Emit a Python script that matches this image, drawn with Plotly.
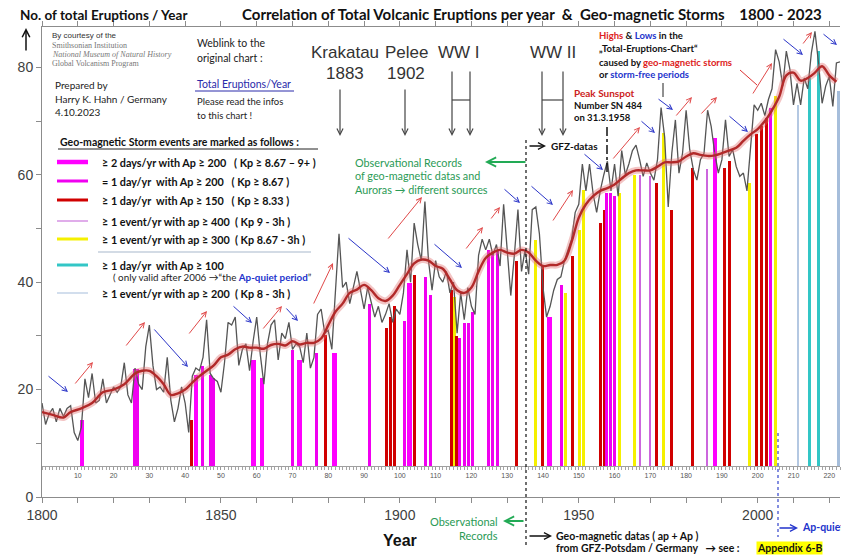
import plotly.graph_objects as go

# ---------------- data ----------------
YEARS = list(range(1800, 2024))
ERUPTIONS = [
    17.5, 13.5, 15.5, 16.5, 14, 16.5, 15, 16.5, 17, 12,
    10.5, 13, 22, 18.5, 23, 17.5, 18, 22, 17.5, 19,
    20.5, 19.5, 20.5, 25, 19, 17.5, 24, 21, 20, 28,
    32, 24.5, 20, 20.5, 19.5, 26, 18, 14, 16.5, 20.5,
    17.5, 12, 22.5, 24, 23.5, 26, 33, 23, 22, 21.5,
    19.5, 25, 32.5, 32, 33.5, 24.5, 27.5, 28.5, 23.5, 29,
    33.5, 26.5, 21, 28.5, 32, 33, 25.5, 30.5, 29.5, 32.5,
    27.5, 28.5, 28, 25, 30.5, 24, 26, 34, 35, 30.5,
    31, 27.5, 38, 49, 39, 40, 36, 39, 42, 38.5,
    35, 39, 36.5, 33.5, 35.5, 32.5, 34, 36, 32.5, 35,
    34, 38, 46, 40, 51, 47, 44, 55, 44, 38.5,
    44, 41, 40, 42, 38, 40, 30.5, 38, 33, 39,
    35.5, 34, 45, 48, 46, 48, 45, 47, 43, 54.5,
    46, 37.5, 45, 53.5, 42, 46, 41.5, 53.5, 54, 49,
    39, 33.5, 35.5, 38.5, 40.5, 41, 44, 46, 48, 53,
    54.5, 62, 57, 62, 56.5, 53, 57, 60, 62.5, 57,
    62, 56, 64.5, 60, 62, 64.5, 65.5, 62.8, 59.7, 62.2,
    60.3, 59, 62.8, 72.5, 67, 54, 64, 70.2, 60.3, 64,
    72, 64.7, 61, 59, 62.8, 64, 72, 69, 64, 60.3,
    62.8, 70.2, 63.4, 64.7, 61.5, 59.7, 60.3, 57, 65, 73,
    72, 73.3, 71, 74, 76, 83.3, 81, 76.5, 83, 79.6,
    73, 77, 73, 78, 76, 82.7, 86.7, 80.8, 73.3, 76.5,
    78.3, 72.7, 80.8, 81,
]

TREND_YEARS = [1800, 1803, 1806, 1808, 1811, 1814, 1817, 1820, 1823, 1826, 1828, 1830,
               1832, 1834, 1836, 1838, 1840, 1842, 1844, 1846, 1848, 1850, 1852, 1854,
               1856, 1858, 1860, 1862, 1864, 1866, 1868, 1870, 1872, 1874, 1876, 1878,
               1880, 1882, 1884, 1886, 1888, 1890, 1892, 1894, 1896, 1898, 1900, 1902,
               1904, 1906, 1908, 1910, 1912, 1914, 1916, 1918, 1920, 1922, 1924, 1926,
               1928, 1930, 1932, 1934, 1936, 1938, 1940, 1942, 1944, 1946, 1948, 1950,
               1952, 1954, 1956, 1958, 1960, 1962, 1964, 1966, 1968, 1970, 1972, 1974,
               1976, 1978, 1980, 1982, 1984, 1986, 1988, 1990, 1992, 1994, 1996, 1998,
               2000, 2002, 2004, 2006, 2008, 2010, 2012, 2014, 2016, 2018, 2020, 2022]
TREND_VALUES = [15.8, 15.3, 14.8, 15.8, 16.5, 17.5, 19.5, 20, 21, 23, 23.5, 23.5,
                22.5, 21, 19, 19.3, 20, 21.3, 22.5, 23.5, 24.5, 26, 26.5, 27.5,
                28, 27.8, 27.8, 27.6, 28.3, 28.5, 28.2, 29, 28.4, 28.7, 28.7, 29.5,
                32, 34.5, 36, 38, 38.6, 39.5, 38.5, 37, 36.5, 37.5, 39.5, 41.5,
                43.5, 44.2, 44, 43, 42.5, 40.5, 38.5, 38, 39, 42, 44.5, 45.5,
                46, 45.5, 45.3, 46, 45.5, 44, 43, 43.2, 43.2, 44, 47.5, 52,
                54.5, 56, 57, 57.5, 58.2, 59.3, 60.3, 60.8, 60.8, 60.8, 61.5, 62.3,
                62.3, 62.5, 63.4, 64, 63.7, 63.5, 63.6, 64, 64.5, 65, 66.3, 67.5,
                68.5, 70, 72, 74.5, 78.5, 79, 77.5, 78, 79, 80.2, 78.5, 77.3]

# storm-event bars (year, top value)
MAG2_YEARS = [1811.2, 1843.1, 1859.1, 1861.5, 1871.9, 1881.7, 1902.7, 1941.8, 1988.1]
MAG2_TOPS = [14.3, 22.7, 25.5, 22.1, 25.5, 26.8, 39.8, 33.6, 66.8]
MAG1_YEARS = [1825.8, 1826.8, 1844.9, 1847, 1848, 1870, 1876.6, 1891.5, 1901.3, 1907.3,
              1908.6, 1916.8, 1918, 1919.2, 1920.4, 1924.9, 1926, 1927.3, 1945.2, 1957.8,
              1958.9, 1960.1, 2003.7]
MAG1_TOPS = [23.8, 23.8, 24.3, 22.7, 22.1, 27.4, 26.8, 36, 32.7, 41,
             37.6, 29.6, 32.4, 32.4, 34.5, 46, 45.7, 46, 39.5, 56.6,
             56.6, 56, 72.4]
RED_YEARS = [1841.9, 1879.3, 1896.4, 1897.5, 1898.5, 1904, 1914.5, 1915.9, 1932.7, 1939.9,
             1948.3, 1956, 1957.1, 1971.7, 1975.9, 1981.9, 1990.8, 1992, 1999.7, 2001.1, 2002.5]
RED_TOPS = [14.3, 30.2, 31.5, 33.6, 35.5, 41.4, 38.6, 29.9, 43.9, 42.9,
            44.8, 51, 53.5, 58.4, 53.5, 61.2, 61.2, 62.5, 67.5, 69, 70.6]
VIOLET_YEARS = [1967.3, 1969.9, 1985.9]
VIOLET_TOPS = [60, 59.7, 61]
YELLOW_YEARS = [1915.2, 1938, 1946.4, 1950.2, 1951.3, 1961.4, 1965.7, 1973.6, 1997.8, 2005.1]
YELLOW_TOPS = [37.3, 47.9, 38, 49.8, 57.2, 56.6, 60, 67.8, 58.4, 74.6]
CYAN_YEARS = [2014.5, 2017.1]
CYAN_TOPS = [78, 83]
PALE_YEARS = [2011.3]
PALE_TOPS = [73]
STEEL_YEARS = [2022.6]
STEEL_TOPS = [75.5]

X_TICKS = list(range(1800, 2021, 10))
X_LABELS = [str(v) if v % 50 == 0 else '' for v in X_TICKS]
Y_TICKS = list(range(0, 81, 10))
Y_LABELS = [str(v) if v % 20 == 0 else '' for v in Y_TICKS]
OFFSET_TICKS = list(range(10, 221, 10))

# ---------------- layout helpers ----------------
W, H = 841, 555
L, R, T, B = 42, 840, 27, 497
X0, X1 = 1800, 2023
YMAX = 87.5
BASE = 5.8

ARIAL = "Liberation Sans, Arial, sans-serif"
CAL = "Lato, Carlito, sans-serif"
SERIF = "Liberation Serif, serif"
GREEN = '#2a9a55'
BLUE = '#2233cc'


def PX(x):
    return (x - L) / (R - L)


def PY(y):
    return (B - y) / (B - T)


fig = go.Figure()


def add_bars(xs, tops, color, width):
    fig.add_trace(go.Bar(x=xs, y=[t - BASE for t in tops], base=BASE, width=width,
                         marker=dict(color=color, line=dict(width=0)),
                         showlegend=False, hoverinfo='skip'))


add_bars(PALE_YEARS, PALE_TOPS, '#b4c8e2', 0.4)
add_bars(STEEL_YEARS, STEEL_TOPS, '#a6bedb', 1.0)
add_bars(CYAN_YEARS, CYAN_TOPS, '#33c6c6', 0.85)
add_bars(YELLOW_YEARS, YELLOW_TOPS, '#f5f000', 0.85)
add_bars(VIOLET_YEARS, VIOLET_TOPS, '#cc66dd', 0.4)
add_bars(RED_YEARS, RED_TOPS, '#d00000', 0.85)
add_bars(MAG1_YEARS, MAG1_TOPS, '#f000f0', 0.85)
add_bars(MAG2_YEARS, MAG2_TOPS, '#ff00ff', 1.25)

# invisible anchor trace so the inner year-offset axis is drawn
fig.add_trace(go.Scatter(x=[OFFSET_TICKS[0], OFFSET_TICKS[-1]], y=[BASE, BASE], xaxis='x2', yaxis='y',
                         mode='markers', marker=dict(opacity=0, size=1),
                         showlegend=False, hoverinfo='skip'))

fig.add_trace(go.Scatter(x=YEARS, y=ERUPTIONS, mode='lines',
                         line=dict(color='#555555', width=1.3),
                         showlegend=False, hoverinfo='skip'))
fig.add_trace(go.Scatter(x=TREND_YEARS, y=TREND_VALUES, mode='lines',
                         line=dict(color='rgba(225,110,110,0.40)', width=7, shape='spline'),
                         showlegend=False, hoverinfo='skip'))
fig.add_trace(go.Scatter(x=TREND_YEARS, y=TREND_VALUES, mode='lines',
                         line=dict(color='#b22a2a', width=2.4, shape='spline'),
                         showlegend=False, hoverinfo='skip'))

ann = []
shapes = []


def txt(x, y, text, size=10, color='#1a1a1a', family=CAL, xanchor='left', **kw):
    ann.append(dict(x=PX(x), y=PY(y), xref='paper', yref='paper', text=text,
                    showarrow=False, xanchor=xanchor, yanchor='middle',
                    font=dict(family=family, size=size, color=color), **kw))


def arrow(tx, ty, hx, hy, color, width=1.0, head=5, size=1.0):
    ann.append(dict(x=PX(hx), y=PY(hy), xref='paper', yref='paper',
                    ax=tx - hx, ay=ty - hy, text='', showarrow=True,
                    arrowhead=head, arrowsize=size, arrowwidth=width, arrowcolor=color))


def line(x0, y0, x1, y1, color, width=1.0, dash='solid'):
    shapes.append(dict(type='line', xref='paper', yref='paper',
                       x0=PX(x0), y0=PY(y0), x1=PX(x1), y1=PY(y1),
                       line=dict(color=color, width=width, dash=dash)))


# titles
txt(18, 15, '<b>No. of total Eruptions / Year</b>', 13.5, '#111')
txt(240, 14, '<b>Correlation of Total Volcanic Eruptions per year\u00a0 &\u00a0 Geo-magnetic Storms\u00a0\u00a0\u00a0 1800 - 2023</b>', 15, '#111')
arrow(26, 52, 26, 28, '#111', 1.5)

# courtesy / author
txt(50, 35, 'By courtesy of the', 8, '#333', ARIAL)
txt(50, 45, 'Smithsonian Institution', 8, '#777', SERIF)
txt(50, 54, '<i>National Museum of Natural History</i>', 8, '#777', SERIF)
txt(50, 63, 'Global Volcanism Program', 8, '#777', SERIF)
txt(53, 85, 'Prepared by', 10, '#222')
txt(53, 99, 'Harry K. Hahn / Germany', 10, '#222')
txt(53, 112, '4.10.2023', 10, '#222')

txt(195, 43, 'Weblink to the', 10.5, '#222')
txt(195, 58, 'original chart :', 10.5, '#222')
txt(195, 84, 'Total Eruptions/Year', 10.5, '#2a2aaa')
line(195, 91, 294, 91, '#2a2aaa', 1)
txt(195, 101, 'Please read the infos', 9.5, '#222')
txt(195, 115, 'to this chart !', 9.5, '#222')

# events
txt(345, 53, 'Krakatau', 17, '#333', ARIAL, 'center')
txt(345, 73, '1883', 17, '#333', ARIAL, 'center')
txt(406, 53, 'Pelee', 17, '#333', ARIAL, 'center')
txt(406, 73, '1902', 17, '#333', ARIAL, 'center')
txt(459, 53, 'WW I', 17, '#333', ARIAL, 'center')
txt(553, 53, 'WW II', 17, '#333', ARIAL, 'center')
arrow(340, 88, 340, 136, '#444', 1.2)
arrow(405, 88, 405, 136, '#444', 1.2)
arrow(452, 70, 452, 136, '#444', 1.2)
arrow(470, 70, 470, 136, '#444', 1.2)
line(452, 100, 470, 100, '#444', 1.2)
arrow(542, 70, 542, 136, '#444', 1.2)
arrow(563, 70, 563, 136, '#444', 1.2)
line(542, 100, 563, 100, '#444', 1.2)

# highs & lows note
txt(597, 35, '<b><span style="color:#dd2222">Highs</span> & <span style="color:#2233cc">Lows</span> in the</b>', 9.5, '#111')
txt(597, 48, '<b>\u201eTotal-Eruptions-Chart\u201c</b>', 9.5, '#111')
txt(597, 62, '<b>caused by <span style="color:#dd2222">geo-magnetic storms</span></b>', 9.5, '#111')
txt(597, 74, '<b>or <span style="color:#2233cc">storm-free periods</span></b>', 9.5, '#111')
line(663, 83, 663, 97, '#222', 1)
line(740, 70, 757, 85, '#dd3333', 1)

txt(572, 93, '<b>Peak Sunspot</b>', 10, '#cc2222')
txt(572, 105, '<b>Number SN 484</b>', 9.5, '#111')
txt(572, 117, '<b>on 31.3.1958</b>', 9.5, '#111')
line(607, 127, 607, 173, '#111', 1.5, 'dashdot')

# legend block
txt(58, 142, '<b>Geo-magnetic Storm events are marked as follows :</b>', 10.5, '#111')
line(58, 149, 318, 149, '#222', 1)
LEG = [
    (162, '#ff00ff', 4.5, '\u2265 2 days/yr with Ap \u2265 200\u00a0\u00a0 ( Kp \u2265 8.67 \u2013 9+ )'),
    (181, '#f000f0', 3, '= 1 day/yr\u00a0 with Ap \u2265 200\u00a0\u00a0 ( Kp \u2265 8.67 )'),
    (200, '#d00000', 3, '\u2265 1 day/yr\u00a0 with Ap \u2265 150\u00a0\u00a0 ( Kp \u2265 8.33 )'),
    (221, '#cc77dd', 1.2, '\u2265 1 event/yr with ap \u2265 400\u00a0 ( Kp 9 - 3h )'),
    (239, '#f5f000', 3, '\u2265 1 event/yr with ap \u2265 300\u00a0 ( Kp 8.67 - 3h )'),
    (265, '#33c6c6', 3, '\u2265 1 day/yr\u00a0 with Ap \u2265 100'),
    (293, '#b4c8e2', 1.2, '\u2265 1 event/yr with ap \u2265 200\u00a0 ( Kp 8 - 3h )'),
]
for yy, col, wd, label in LEG:
    line(57, yy, 88, yy, col, wd)
    txt(100, yy, '<b>' + label + '</b>', 10.8, '#111')
line(98, 252, 311, 252, '#a8b8cc', 1.2)
txt(111, 277, '( only valid after 2006 \u2192\u201cthe <b><span style="color:#2233cc">Ap-quiet period</span></b>\u201d', 9.8, '#222')

# observational records
txt(353, 162, 'Observational Records', 10.8, GREEN)
txt(353, 175, 'of geo-magnetic datas and', 10.8, GREEN)
txt(353, 189, 'Auroras \u2192 different sources', 10.8, GREEN)
arrow(527, 162, 485, 162, '#22aa55', 1.8)
arrow(528, 146, 546, 146, '#111', 1.3)
txt(549, 146, '<b>GFZ-datas</b>', 10, '#111')
line(526, 140, 526, 545, '#111', 1.2, 'dot')

# bottom notes
txt(500, 521, 'Observational', 11, GREEN, xanchor='right')
txt(500, 535, 'Records', 11, GREEN, xanchor='right')
arrow(525, 521, 503, 521, '#22aa55', 1.8)
arrow(528, 536, 552, 536, '#111', 1.3)
txt(554, 536, '<b>Geo-magnetic datas ( ap + Ap )</b>', 10.5, '#111')
txt(554, 548, '<b>from GFZ-Potsdam / Germany\u00a0\u00a0 \u2192 see :</b>', 10.5, '#111')
txt(756, 548, '<b>Appendix 6-B</b>', 10.5, '#111', bgcolor='#ffff00', borderpad=0)
txt(400, 540, '<b>Year</b>', 16, '#111', ARIAL, 'center')
line(778, 433, 778, 537, '#3344cc', 1.2, 'dot')
arrow(778, 528, 798, 528, BLUE, 1.3)
txt(800, 527, '<b>Ap-quiet period</b>', 10.5, BLUE)

# highs (red) and lows (blue) arrows
RED_ARROWS = [(74, 385, 93, 362), (125, 347, 145, 322), (188, 335, 207, 311), (262, 330, 282, 306),
              (313, 305, 333, 263), (387, 240, 422, 197), (465, 250, 483, 227), (490, 220, 500, 207),
              (552, 222, 573, 190), (612, 160, 640, 127), (675, 117, 692, 97), (700, 115, 717, 97),
              (752, 95, 772, 63), (802, 45, 812, 32)]
BLUE_ARROWS = [(47, 375, 68, 392), (153, 328, 188, 367), (232, 305, 252, 323), (285, 307, 298, 321),
               (347, 237, 390, 273), (433, 243, 462, 268), (503, 188, 520, 203), (530, 185, 553, 205),
               (583, 153, 603, 170), (640, 120, 655, 133), (657, 98, 673, 110), (728, 115, 748, 132),
               (782, 38, 803, 55), (822, 33, 837, 45)]
for a in RED_ARROWS:
    arrow(*a, color='#e04848', width=1.0)
for a in BLUE_ARROWS:
    arrow(*a, color='#2b35c8', width=1.0)

axis_col = '#8c8c8c'
fig.update_layout(
    width=W, height=H,
    margin=dict(l=L, r=W - R, t=T, b=H - B),
    paper_bgcolor='white', plot_bgcolor='white',
    barmode='overlay', bargap=0,
    showlegend=False,
    xaxis=dict(range=[X0, X1], tickmode='array', tickvals=X_TICKS, ticktext=X_LABELS,
               ticks='outside', ticklen=5, tickcolor=axis_col, showline=True, linecolor=axis_col,
               mirror='ticks', showgrid=False, zeroline=False,
               tickfont=dict(family=ARIAL, size=14, color='#404040')),
    xaxis2=dict(overlaying='x', anchor='free', position=BASE / YMAX, side='bottom',
                range=[0, X1 - X0], tickmode='array', tickvals=OFFSET_TICKS,
                ticks='outside', ticklen=3, tickcolor='#9a9a9a',
                minor=dict(dtick=1, tick0=0, ticks='outside', ticklen=3, tickcolor='#a5a5a5'),
                showline=True, linecolor='#a0a0a0', showgrid=False, zeroline=False,
                tickfont=dict(family=ARIAL, size=7, color='#555')),
    yaxis=dict(range=[0, YMAX], tickmode='array', tickvals=Y_TICKS, ticktext=Y_LABELS,
               ticks='outside', ticklen=5, tickcolor=axis_col, showline=True, linecolor=axis_col,
               showgrid=False, zeroline=False,
               tickfont=dict(family=ARIAL, size=14, color='#404040')),
    annotations=ann,
    shapes=shapes,
)

fig.write_html("out.html", config={'displayModeBar': False},
               post_script="document.body.style.margin='0';document.body.style.overflow='hidden';")
